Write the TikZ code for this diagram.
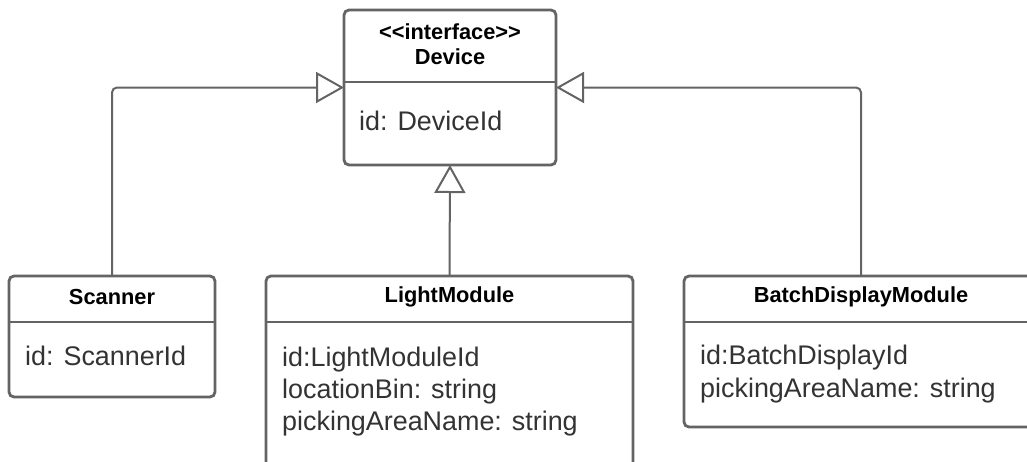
\documentclass[tikz,border=0pt]{standalone}
\usepackage{fontspec}
\setmainfont{Liberation Sans}
\usetikzlibrary{arrows.meta}
\definecolor{edge}{HTML}{646464}
\definecolor{txt}{HTML}{333333}
\tikzset{
 umlbox/.style={draw=edge, line width=2.8pt, rounded corners=5pt, fill=white, inner sep=0pt, outer sep=0pt, anchor=north west},
 divider/.style={draw=edge, line width=2.8pt},
 title/.style={font=\bfseries\fontsize{21.8}{25}\selectfont, text=black, align=center, inner sep=0pt},
 attr/.style={font=\fontsize{26.9}{32}\selectfont, text=txt, align=left, anchor=west, inner sep=0pt},
 gen/.style={draw=edge, line width=2pt, rounded corners=5pt, -{Triangle[open, length=28pt, width=31pt, fill=white]}},
}
\begin{document}
\begin{tikzpicture}[x=1pt,y=-1pt]
\useasboundingbox (0,0) rectangle (1027,461);
\clip (0,0) rectangle (1027,461);
% boxes
\node[umlbox, minimum width=212, minimum height=155] (device) at (344,10) {};
\node[umlbox, minimum width=206, minimum height=121] (scanner) at (9,276) {};
\node[umlbox, minimum width=367, minimum height=200] (lm) at (266,276) {};
\node[umlbox, minimum width=354, minimum height=151] (bdm) at (684,276) {};
% dividers
\draw[divider] (device.west |- 0,82) -- (device.east |- 0,82);
\draw[divider] (scanner.west |- 0,322) -- (scanner.east |- 0,322);
\draw[divider] (lm.west |- 0,322) -- (lm.east |- 0,322);
\draw[divider] (bdm.west |- 0,322) -- (bdm.east |- 0,322);
% titles
\node[title] (devt) at (450,44.5) {<\kern0pt<interface>\kern0pt>\\Device};
\node[title] (scant) at (112,297) {Scanner};
\node[title] (lmt) at (449.5,297) {LightModule};
\node[title] (bdmt) at (861,297) {BatchDisplayModule};
% attributes
\node[attr] (deva) at (359,121) {id: DeviceId};
\node[attr] (scana) at (25,356) {id: ScannerId};
\node[attr] (lma) at (282,392) {id:LightModuleId\\locationBin: string\\pickingAreaName: string};
\node[attr, font=\fontsize{26.9}{33}\selectfont] (bdma) at (700,374) {id:BatchDisplayId\\pickingAreaName: string};
% generalizations
\draw[gen] (scanner.north) |- (device.west);
\draw[gen] (bdm.north) |- (device.east);
\draw[gen] (lm.north) -- (device.south);
\end{tikzpicture}
\end{document}
